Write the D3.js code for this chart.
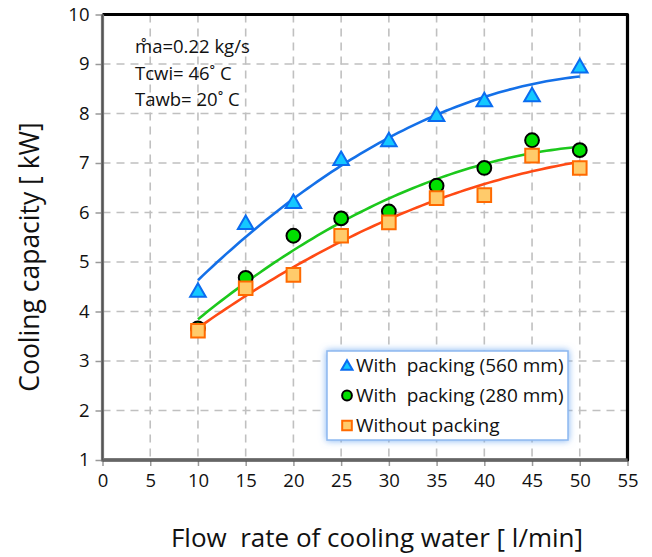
<!DOCTYPE html>
<html>
<head>
<meta charset="utf-8">
<script src="https://cdn.jsdelivr.net/npm/d3@7"></script>
<style>
  html, body { margin: 0; padding: 0; background: #fff; }
  svg { display: block; font-family: "Open Sans", sans-serif; }
</style>
</head>
<body>
<svg id="chart" width="652" height="557"></svg>
<script>
// Flow rate of cooling water [l/min]
const flowRates = [10, 15, 20, 25, 30, 35, 40, 45, 50];
// Cooling capacity [kW] for each configuration
const packing560 = [4.42, 5.79, 6.21, 7.08, 7.46, 7.97, 8.27, 8.37, 8.95];
const packing280 = [3.66, 4.68, 5.53, 5.88, 6.02, 6.54, 6.90, 7.46, 7.26];
const noPacking  = [3.61, 4.47, 4.74, 5.53, 5.80, 6.29, 6.35, 7.15, 6.90];

const xTicks = [0, 5, 10, 15, 20, 25, 30, 35, 40, 45, 50, 55];
const yTicks = [1, 2, 3, 4, 5, 6, 7, 8, 9, 10];

const seriesNames = ["With  packing (560 mm)", "With  packing (280 mm)", "Without packing"];
const notes = ["m\u030Aa=0.22 kg/s", "Tcwi= 46\u02DA C", "Tawb= 20\u02DA C"];

const series = [
  { name: seriesNames[0], values: packing560, shape: "triangle", fill: "#14C8FF", stroke: "#0A6CF0", line: "#1470E8" },
  { name: seriesNames[1], values: packing280, shape: "circle",   fill: "#00E000", stroke: "#000000", line: "#1CC81C" },
  { name: seriesNames[2], values: noPacking,  shape: "square",   fill: "#FFCB6B", stroke: "#FF6A00", line: "#FF4A14" }
];

const svg = d3.select("#chart");
const L = 102.5, R = 627.5, T = 14.5, B = 460;
const FONT = "'Open Sans', sans-serif";

const x = d3.scaleLinear().domain([0, 55]).range([L, R]);
const y = d3.scaleLinear().domain([1, 10]).range([B, T]);

// Dashed grid
const grid = svg.append("g");
grid.selectAll("line.vx").data(xTicks.slice(1, -1)).join("line")
  .attr("x1", d => x(d)).attr("x2", d => x(d)).attr("y1", T).attr("y2", B)
  .attr("stroke", "#c0c0c0").attr("stroke-width", 1.6).attr("stroke-dasharray", "8,6");
grid.selectAll("line.hy").data(yTicks.slice(1, -1)).join("line")
  .attr("x1", L).attr("x2", R).attr("y1", d => y(d)).attr("y2", d => y(d))
  .attr("stroke", "#c0c0c0").attr("stroke-width", 1.6).attr("stroke-dasharray", "8,6");

// Axes
const xAxis = d3.axisBottom(x).tickValues(xTicks).tickSize(6).tickPadding(8).tickFormat(d3.format("d"));
const yAxis = d3.axisLeft(y).tickValues(yTicks).tickSize(7).tickPadding(6).tickFormat(d3.format("d"));

const gx = svg.append("g").attr("transform", `translate(0,${B})`).call(xAxis);
const gy = svg.append("g").attr("transform", `translate(${L},0)`).call(yAxis);
[gx, gy].forEach(g => {
  g.select(".domain").remove();
  g.selectAll(".tick line").attr("stroke", "#999").attr("stroke-width", 1.5);
  g.selectAll(".tick text").attr("fill", "#111").style("font-size", "18.5px").style("font-family", FONT);
});

// Frame: grey left/bottom axis lines, black top/right edges
svg.append("path")
  .attr("d", `M${L},${B}H${R}V${T}H${L}`)
  .attr("fill", "none").attr("stroke", "#000").attr("stroke-width", 3.2).attr("stroke-linejoin", "round");
svg.append("path")
  .attr("d", `M${L},${T}V${B}H${R}`)
  .attr("fill", "none").attr("stroke", "#777").attr("stroke-width", 3.2);
svg.append("path")
  .attr("d", `M${L},${T}V${B}H${R}`)
  .attr("fill", "none").attr("stroke", "#555").attr("stroke-width", 1.2);

// Second-order polynomial trend line through each series
function quadFit(xs, ys) {
  const n = xs.length;
  let s = [0, 0, 0, 0, 0], t = [0, 0, 0];
  for (let i = 0; i < n; i++) {
    let p = 1;
    for (let k = 0; k < 5; k++) { s[k] += p; p *= xs[i]; }
    t[0] += ys[i]; t[1] += ys[i] * xs[i]; t[2] += ys[i] * xs[i] * xs[i];
  }
  const M = [[s[0], s[1], s[2], t[0]], [s[1], s[2], s[3], t[1]], [s[2], s[3], s[4], t[2]]];
  for (let c = 0; c < 3; c++) {
    for (let r = c + 1; r < 3; r++) {
      const f = M[r][c] / M[c][c];
      for (let k = c; k < 4; k++) M[r][k] -= f * M[c][k];
    }
  }
  const a = [0, 0, 0];
  for (let r = 2; r >= 0; r--) {
    let v = M[r][3];
    for (let k = r + 1; k < 3; k++) v -= M[r][k] * a[k];
    a[r] = v / M[r][r];
  }
  return xv => a[0] + a[1] * xv + a[2] * xv * xv;
}

const line = d3.line().x(d => x(d[0])).y(d => y(d[1]));
const xMin = d3.min(flowRates), xMax = d3.max(flowRates);
series.forEach(s => {
  const f = quadFit(flowRates, s.values);
  const pts = d3.range(0, 81).map(i => { const xv = xMin + (xMax - xMin) * i / 80; return [xv, f(xv)]; });
  svg.append("path").datum(pts).attr("d", line)
    .attr("fill", "none").attr("stroke", s.line).attr("stroke-width", 2.6);
});

// Markers
const symbolOf = { triangle: d3.symbolTriangle, circle: d3.symbolCircle, square: d3.symbolSquare };
const sizeOf = { triangle: 105, circle: 150, square: 185 };
function drawMarker(g, s, cx, cy, scale) {
  const dy = s.shape === "triangle" ? 1.5 * Math.sqrt(scale) : 0;
  g.append("path")
    .attr("d", d3.symbol().type(symbolOf[s.shape]).size(sizeOf[s.shape] * scale)())
    .attr("transform", `translate(${cx},${cy + dy})`)
    .attr("fill", s.fill).attr("stroke", s.stroke).attr("stroke-width", 2);
}
const order = [series[1], series[2], series[0]];
order.forEach(s => {
  const g = svg.append("g");
  flowRates.forEach((fr, i) => drawMarker(g, s, x(fr), y(s.values[i]), 1));
});

// Operating conditions note
const note = svg.append("g").style("font-family", FONT).style("font-size", "18.5px").attr("fill", "#111");
notes.forEach((t, i) => note.append("text").attr("x", 135).attr("y", 53 + i * 26.5).text(t));

// Legend with soft blue glow
const defs = svg.append("defs");
const flt = defs.append("filter").attr("id", "glow").attr("x", "-10%").attr("y", "-15%").attr("width", "120%").attr("height", "130%");
flt.append("feGaussianBlur").attr("in", "SourceAlpha").attr("stdDeviation", 3.5).attr("result", "b");
flt.append("feFlood").attr("flood-color", "#6FA8F0").attr("flood-opacity", 0.9);
flt.append("feComposite").attr("in2", "b").attr("operator", "in").attr("result", "g");
const fm = flt.append("feMerge");
fm.append("feMergeNode").attr("in", "g");
fm.append("feMergeNode").attr("in", "SourceGraphic");

const lg = svg.append("g").attr("transform", "translate(327,351)");
lg.append("rect").attr("width", 241).attr("height", 89).attr("fill", "#fff")
  .attr("stroke", "#8DB8F0").attr("stroke-width", 1.5).attr("filter", "url(#glow)");
series.forEach((s, i) => {
  const cy = 14.5 + i * 30;
  drawMarker(lg, s, 20, cy, 0.5);
  lg.append("text").attr("x", 29).attr("y", cy + 6.5).text(s.name)
    .style("font-size", "19px").style("font-family", FONT).attr("fill", "#111")
    .attr("xml:space", "preserve").style("white-space", "pre");
});

// Axis titles
svg.append("text").attr("x", 377).attr("y", 547).attr("text-anchor", "middle")
  .style("font-size", "26px").style("font-family", FONT).attr("fill", "#111")
  .attr("xml:space", "preserve").style("white-space", "pre")
  .text("Flow  rate of cooling water [ l/min]");
svg.append("text").attr("transform", "translate(39,257) rotate(-90)").attr("text-anchor", "middle")
  .style("font-size", "26.5px").style("font-family", FONT).attr("fill", "#111")
  .text("Cooling capacity [ kW]");
</script>
</body>
</html>
